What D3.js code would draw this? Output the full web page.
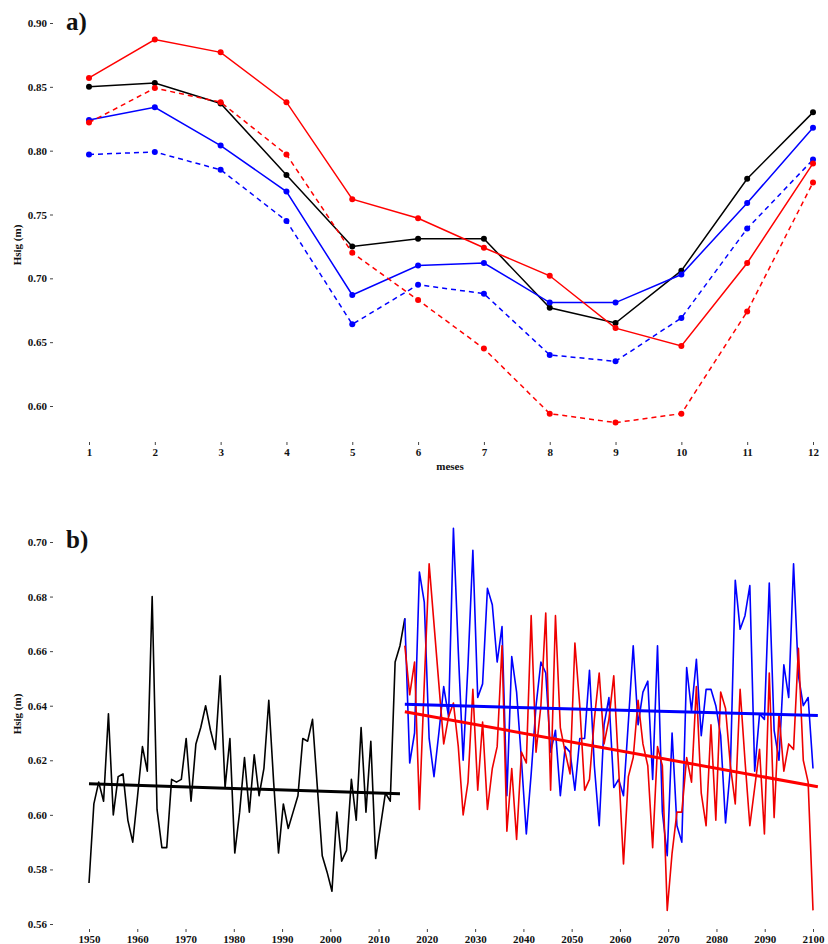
<!DOCTYPE html>
<html>
<head>
<meta charset="utf-8">
<script src="https://cdnjs.cloudflare.com/ajax/libs/d3/7.8.5/d3.min.js"></script>
<style>
  body { margin: 0; background: #fff; }
  svg text { font-family: "Liberation Serif", "DejaVu Serif", serif; font-weight: bold; fill: #111; }
</style>
</head>
<body>
<div class="container"></div>
<script>
// panel a: monthly means
var months = [1, 2, 3, 4, 5, 6, 7, 8, 9, 10, 11, 12];
var histMonthly    = [0.850, 0.853, 0.837, 0.781, 0.725, 0.731, 0.731, 0.677, 0.665, 0.706, 0.778, 0.830];
var blueMonthly    = [0.824, 0.834, 0.804, 0.768, 0.687, 0.710, 0.712, 0.681, 0.681, 0.703, 0.759, 0.818];
var blueMonthlyDash= [0.797, 0.799, 0.785, 0.745, 0.664, 0.695, 0.688, 0.640, 0.635, 0.669, 0.739, 0.793];
var redMonthly     = [0.857, 0.887, 0.877, 0.838, 0.762, 0.747, 0.724, 0.702, 0.661, 0.647, 0.712, 0.790];
var redMonthlyDash = [0.822, 0.849, 0.838, 0.797, 0.720, 0.683, 0.645, 0.594, 0.587, 0.594, 0.674, 0.775];
var monthTicks = [0.60, 0.65, 0.70, 0.75, 0.80, 0.85, 0.90];

// panel b: annual series (projections start on the last historical year)
var histYears = d3.range(1950, 2016);
var histAnnual = [
  0.575, 0.604, 0.612, 0.605, 0.637, 0.600, 0.614, 0.615, 0.598, 0.590,
  0.607, 0.625, 0.616, 0.680, 0.602, 0.588, 0.588, 0.613, 0.612, 0.613,
  0.628, 0.605, 0.626, 0.632, 0.640, 0.631, 0.624, 0.651, 0.610, 0.628,
  0.586, 0.601, 0.621, 0.601, 0.622, 0.607, 0.617, 0.642, 0.612, 0.586,
  0.604, 0.595, 0.601, 0.607, 0.628, 0.627, 0.635, 0.610, 0.585, 0.579,
  0.572, 0.601, 0.583, 0.587, 0.613, 0.598, 0.632, 0.601, 0.627, 0.584,
  0.596, 0.608, 0.605, 0.656, 0.662, 0.672];
var projYears = d3.range(2015, 2100);
var blueAnnual = [
  0.672, 0.619, 0.630, 0.689, 0.678, 0.628, 0.614, 0.630, 0.647, 0.636,
  0.705, 0.660, 0.620, 0.655, 0.697, 0.643, 0.648, 0.683, 0.677, 0.656,
  0.669, 0.607, 0.658, 0.645, 0.620, 0.593, 0.615, 0.640, 0.656, 0.652,
  0.623, 0.631, 0.607, 0.625, 0.623, 0.609, 0.628, 0.628, 0.653, 0.618,
  0.596, 0.633, 0.643, 0.610, 0.613, 0.607, 0.634, 0.662, 0.633, 0.645,
  0.649, 0.613, 0.662, 0.601, 0.585, 0.630, 0.596, 0.590, 0.654, 0.638,
  0.657, 0.629, 0.646, 0.646, 0.640, 0.629, 0.597, 0.617, 0.686, 0.668,
  0.673, 0.684, 0.616, 0.637, 0.635, 0.685, 0.631, 0.620, 0.655, 0.643,
  0.692, 0.651, 0.640, 0.643, 0.617];
var redAnnual = [
  0.662, 0.644, 0.656, 0.602, 0.648, 0.692, 0.670, 0.648, 0.626, 0.636,
  0.641, 0.625, 0.600, 0.612, 0.646, 0.609, 0.634, 0.602, 0.617, 0.625,
  0.662, 0.594, 0.617, 0.591, 0.623, 0.619, 0.673, 0.623, 0.640, 0.674,
  0.609, 0.673, 0.632, 0.623, 0.615, 0.663, 0.640, 0.609, 0.613, 0.635,
  0.652, 0.626, 0.635, 0.651, 0.617, 0.582, 0.614, 0.621, 0.642, 0.626,
  0.618, 0.588, 0.625, 0.618, 0.565, 0.586, 0.601, 0.601, 0.621, 0.612,
  0.647, 0.608, 0.596, 0.633, 0.598, 0.645, 0.639, 0.618, 0.604, 0.646,
  0.620, 0.596, 0.610, 0.624, 0.593, 0.652, 0.599, 0.637, 0.616, 0.626,
  0.624, 0.661, 0.620, 0.612, 0.565];
// trend lines: [start year, end year] and [start value, end value]
var histTrendYears = [1950, 2014], histTrend = [0.6114, 0.6077];
var projTrendYears = [2015, 2100];
var blueTrend = [0.6405, 0.6364];
var redTrend  = [0.6378, 0.6103];
var yearTicks = d3.range(1950, 2101, 10);
var annualTicks = [0.56, 0.58, 0.60, 0.62, 0.64, 0.66, 0.68, 0.70];

var W = 828, H = 944;
var svg = d3.select(".container").append("svg")
  .attr("width", W)
  .attr("height", H);

// ---------- panel a ----------
var xa = d3.scaleLinear().domain([1, 12]).range([89, 813]);
var ya = d3.scaleLinear().domain([0.60, 0.90]).range([406, 23]);

function styleAxis(g) {
  g.select(".domain").remove();
  g.selectAll(".tick line").attr("stroke", "#444");
  g.selectAll(".tick text").attr("font-size", 11).attr("fill", "#111");
}

svg.append("g")
  .attr("transform", "translate(53,0)")
  .call(d3.axisLeft(ya).tickValues(monthTicks).tickFormat(d3.format(".2f")).tickSize(3).tickPadding(3))
  .call(styleAxis);

svg.append("g")
  .attr("transform", "translate(0,442)")
  .call(d3.axisBottom(xa).tickValues(months).tickFormat(d3.format("d")).tickSize(3).tickPadding(3))
  .call(styleAxis);

svg.append("text").attr("x", 450).attr("y", 470).attr("text-anchor", "middle")
  .attr("font-size", 11).text("meses");
svg.append("text").attr("transform", "translate(21,245) rotate(-90)")
  .attr("text-anchor", "middle").attr("font-size", 11).text("Hsig (m)");
svg.append("text").attr("x", 66).attr("y", 30).attr("font-size", 25).text("a)");

var monthlySeries = [
  { vals: histMonthly, color: "#000", dash: null },
  { vals: blueMonthly, color: "#0000ff", dash: null },
  { vals: blueMonthlyDash, color: "#0000ff", dash: "5,4" },
  { vals: redMonthlyDash, color: "#ff0000", dash: "5,4" },
  { vals: redMonthly, color: "#ff0000", dash: null }
];

var lineA = d3.line()
  .x(function (d, i) { return xa(months[i]); })
  .y(function (d) { return ya(d); });

var gA = svg.selectAll(".mseries")
  .data(monthlySeries)
  .enter().append("g").attr("class", "mseries");

gA.append("path")
  .attr("d", function (d) { return lineA(d.vals); })
  .attr("fill", "none")
  .attr("stroke", function (d) { return d.color; })
  .attr("stroke-width", 1.5)
  .attr("stroke-dasharray", function (d) { return d.dash; });

gA.selectAll("circle")
  .data(function (d) { return d.vals.map(function (v, i) { return { v: v, m: months[i], c: d.color }; }); })
  .enter().append("circle")
  .attr("cx", function (d) { return xa(d.m); })
  .attr("cy", function (d) { return ya(d.v); })
  .attr("r", 3)
  .attr("fill", function (d) { return d.c; });

// ---------- panel b ----------
// axis labels run 1950-2100, the plotted series run 1950-2099 over the same width
var xb = d3.scaleLinear().domain([1950, 2100]).range([89, 813]);
var xd = d3.scaleLinear().domain([1950, 2099]).range([89, 813]);
var yb = d3.scaleLinear().domain([0.56, 0.70]).range([924, 542]);

svg.append("g")
  .attr("transform", "translate(53,0)")
  .call(d3.axisLeft(yb).tickValues(annualTicks).tickFormat(d3.format(".2f")).tickSize(3).tickPadding(3))
  .call(styleAxis);

svg.append("g")
  .attr("transform", "translate(0,929)")
  .call(d3.axisBottom(xb).tickValues(yearTicks).tickFormat(d3.format("d")).tickSize(3).tickPadding(3))
  .call(styleAxis);

svg.append("text").attr("transform", "translate(21,714) rotate(-90)")
  .attr("text-anchor", "middle").attr("font-size", 11).text("Hsig (m)");
svg.append("text").attr("x", 66).attr("y", 548).attr("font-size", 25).text("b)");

var lineB = d3.line()
  .x(function (d) { return xd(d.yr); })
  .y(function (d) { return yb(d.v); });

function pairs(years, vals) {
  return vals.map(function (v, i) { return { yr: years[i], v: v }; });
}

var annualSeries = [
  { pts: pairs(histYears, histAnnual), color: "#000" },
  { pts: pairs(projYears, blueAnnual), color: "#0000ff" },
  { pts: pairs(projYears, redAnnual), color: "#ee0000" }
];

svg.selectAll(".aseries")
  .data(annualSeries)
  .enter().append("path")
  .attr("class", "aseries")
  .attr("d", function (d) { return lineB(d.pts); })
  .attr("fill", "none")
  .attr("stroke", function (d) { return d.color; })
  .attr("stroke-width", 1.6)
  .attr("stroke-linejoin", "round");

var trendData = [
  { yrs: histTrendYears, v: histTrend, color: "#000" },
  { yrs: projTrendYears, v: blueTrend, color: "#0000ff" },
  { yrs: projTrendYears, v: redTrend, color: "#ff0000" }
];

svg.selectAll(".trend")
  .data(trendData)
  .enter().append("line")
  .attr("class", "trend")
  .attr("x1", function (d) { return xd(d.yrs[0]); })
  .attr("x2", function (d) { return xd(d.yrs[1]); })
  .attr("y1", function (d) { return yb(d.v[0]); })
  .attr("y2", function (d) { return yb(d.v[1]); })
  .style("stroke", function (d) { return d.color; })
  .style("stroke-width", 3);
</script>
</body>
</html>
